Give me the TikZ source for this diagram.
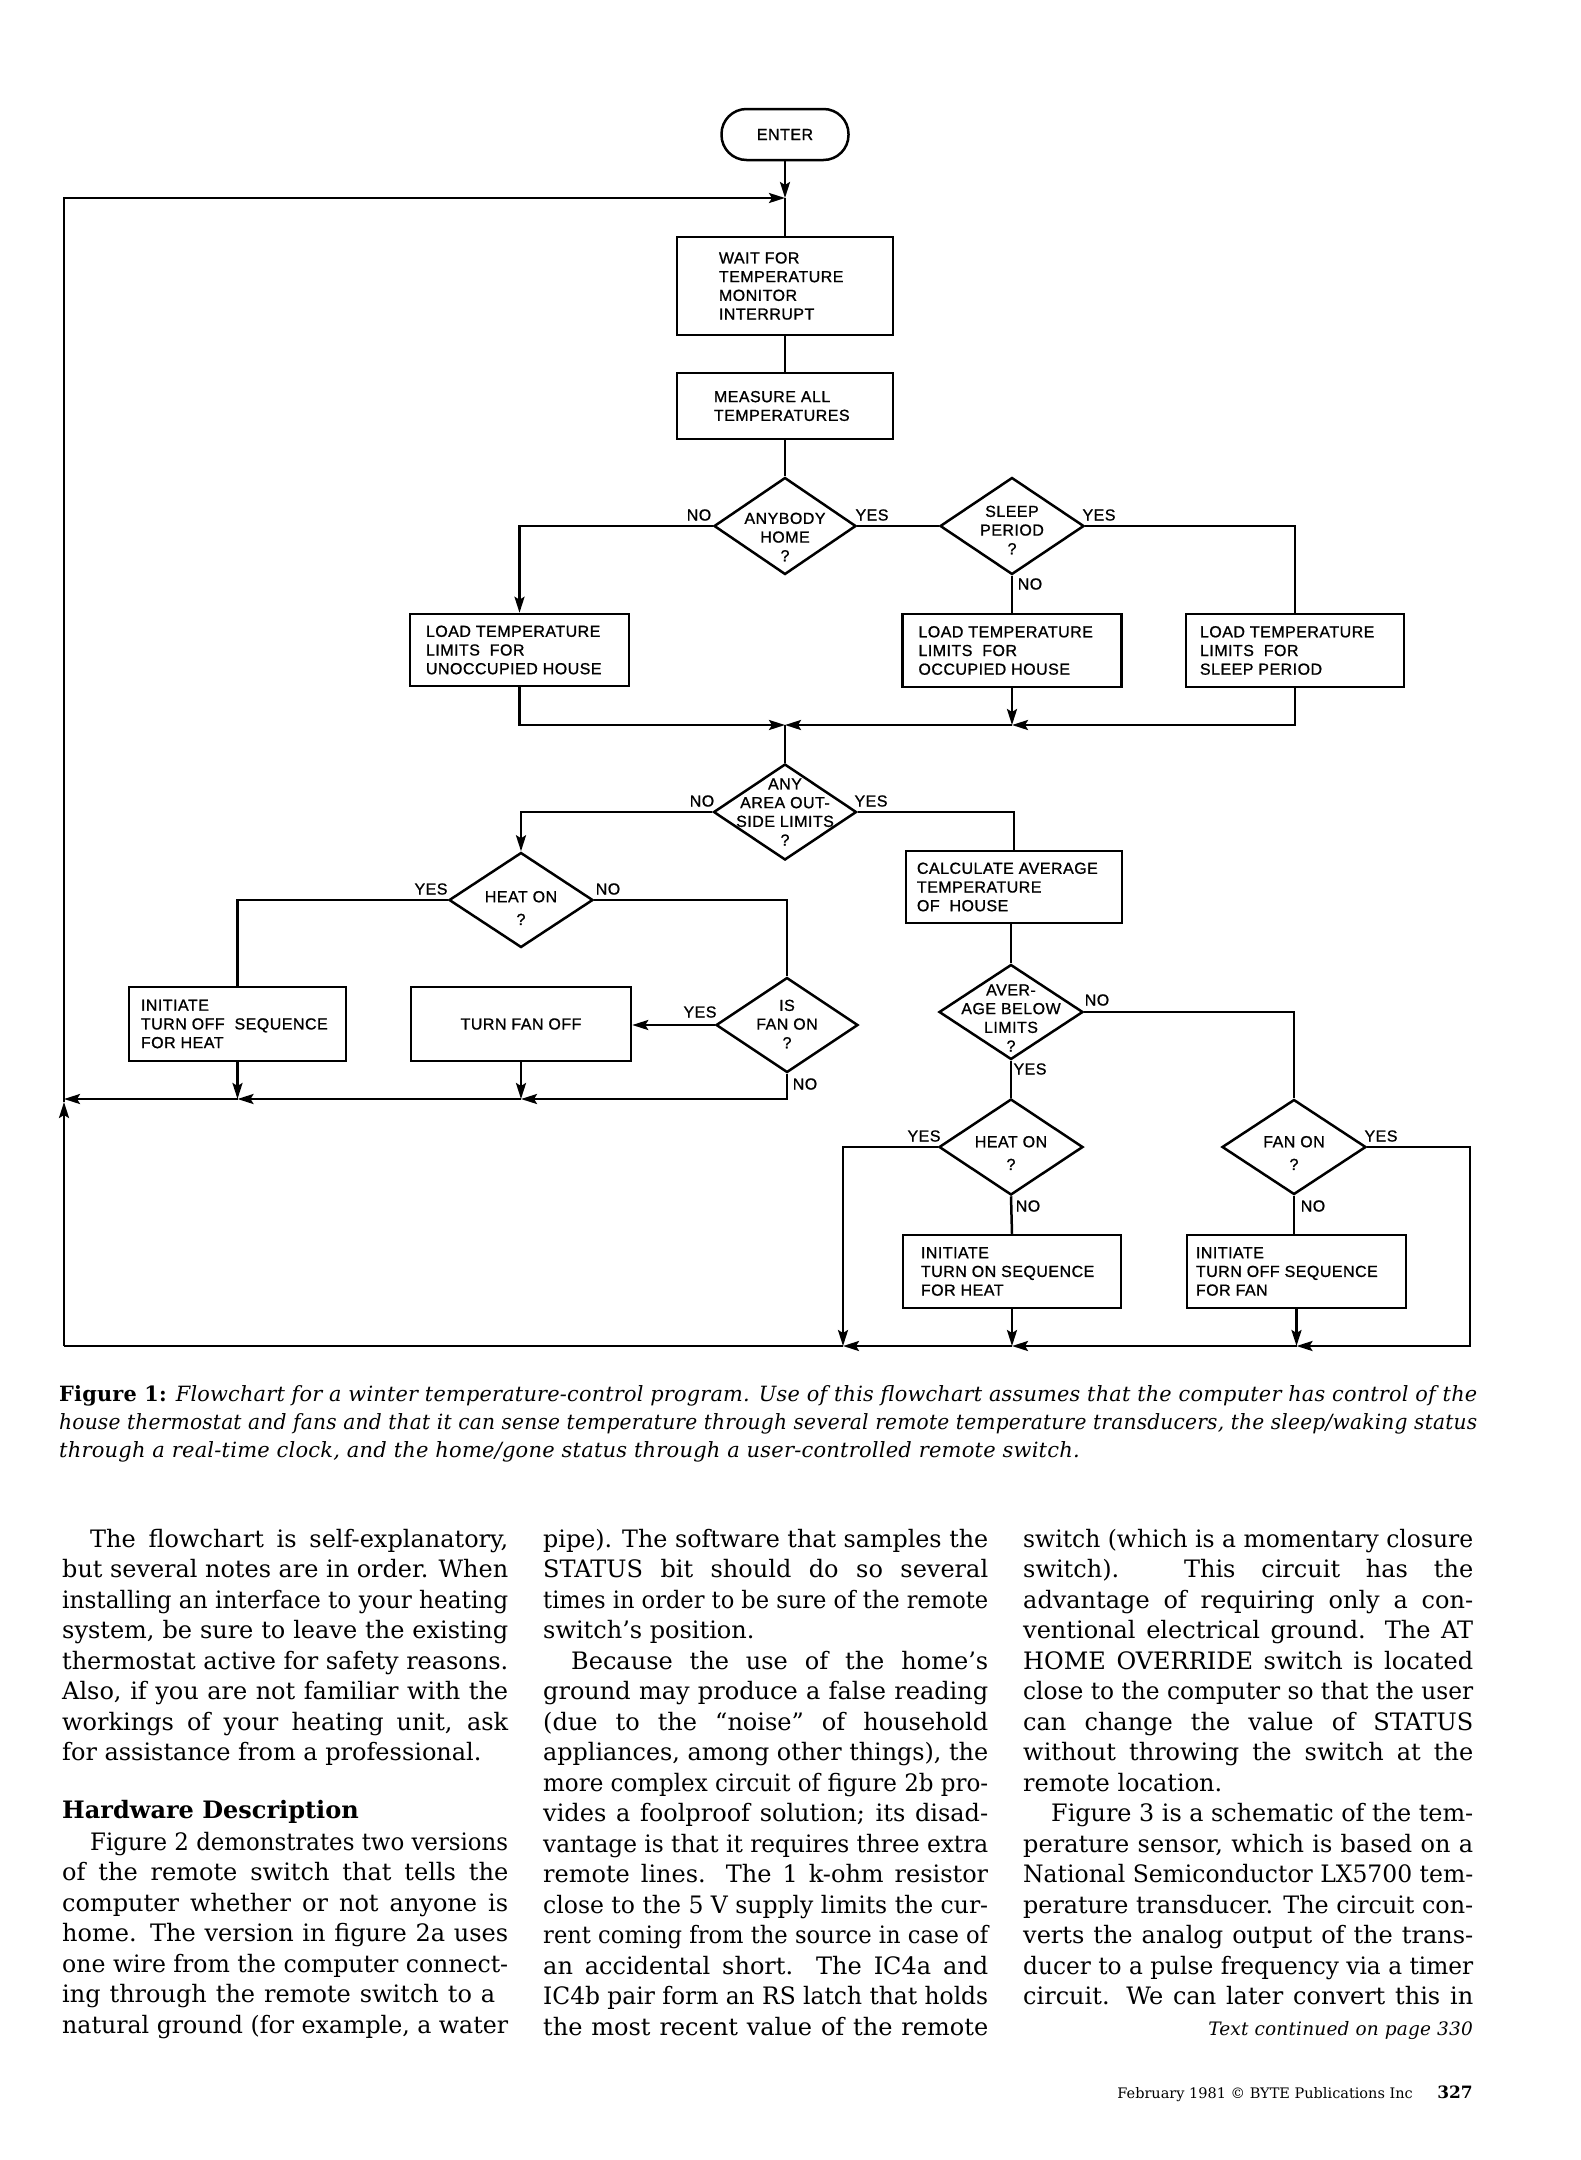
\documentclass[tikz,border=0pt]{standalone}
\usepackage{fontspec}
\usetikzlibrary{shapes.geometric,arrows.meta,calc}
\setmainfont{DejaVu Serif}
\newfontfamily\dfont[LetterSpace=3,FakeBold=1]{Liberation Sans}
\newfontfamily\capfont[LetterSpace=1]{DejaVu Serif}
\newcommand\dsize{\fontsize{16}{18.7}\selectfont}
\newcommand\bodyfont{\fontsize{24}{30.5}\selectfont\parindent0pt\parskip0pt}
\newsavebox\linebox
\newcommand\fitline[2]{\sbox\linebox{#2}\ifdim\wd\linebox>#1\relax\resizebox{#1}{\height}{\usebox\linebox}\else\makebox[#1][s]{#2}\fi}
\newcommand\bjl[1]{\fitline{\linewidth}{#1}\par}
\newcommand\bji[1]{\hspace*{28pt}\fitline{\dimexpr\linewidth-28pt\relax}{#1}\par}
\newcommand\bll[1]{#1\par}
\tikzset{
  ln/.style={line width=2.5pt},
  arr/.style={line width=2.5pt,-{Stealth[length=16pt,width=10pt,inset=3pt]}},
  box/.style={draw,line width=2.5pt,inner sep=0pt},
  dia/.style={draw,diamond,line width=2.5pt,inner sep=0pt},
  btext/.style={align=left,inner sep=0pt,font=\dfont\dsize},
  dtext/.style={align=center,inner sep=0pt,font=\dfont\dsize},
  lbl/.style={inner sep=0pt,font=\dfont\dsize},
}
\begin{document}
\begin{tikzpicture}[x=1pt,y=-1pt]
\useasboundingbox (0,0) rectangle (1580,2160);
\fill[white] (0,0) rectangle (1580,2160);

% ---------- nodes ----------
\node[box,rounded corners=25pt,minimum width=127pt,minimum height=51pt,font=\dfont\dsize] (enter) at (785,134.5) {ENTER};

\node[box,minimum width=216pt,minimum height=98pt] (wait) at (785,286) {};
\node[btext,anchor=west] (waitt) at ($(wait.west)+(43,0)$) {WAIT FOR\\TEMPERATURE\\MONITOR\\INTERRUPT};

\node[box,minimum width=216pt,minimum height=66pt] (meas) at (785,406) {};
\node[btext,anchor=west] (meast) at ($(meas.west)+(38,0)$) {MEASURE ALL\\TEMPERATURES};

\node[dia,minimum width=142pt,minimum height=97pt] (anyb) at (785,526) {};
\node[dtext] (anybt) at (785,537) {ANYBODY\\HOME\\?};

\node[dia,minimum width=144pt,minimum height=97pt] (sleep) at (1012,526) {};
\node[dtext] (sleept) at (1012,530) {SLEEP\\PERIOD\\?};

\node[box,minimum width=219pt,minimum height=72pt] (load1) at (519.5,650) {};
\node[btext,anchor=west] (load1t) at ($(load1.west)+(17,0)$) {LOAD\ TEMPERATURE\\LIMITS\ \ FOR\\UNOCCUPIED\ HOUSE};

\node[box,minimum width=219pt,minimum height=73pt] (load2) at (1012,650.5) {};
\node[btext,anchor=west] (load2t) at ($(load2.west)+(17,0)$) {LOAD\ TEMPERATURE\\LIMITS\ \ FOR\\OCCUPIED\ HOUSE};

\node[box,minimum width=218pt,minimum height=73pt] (load3) at (1295,650.5) {};
\node[btext,anchor=west] (load3t) at ($(load3.west)+(15,0)$) {LOAD\ TEMPERATURE\\LIMITS\ \ FOR\\SLEEP\ PERIOD};

\node[dia,minimum width=143pt,minimum height=96pt] (any) at (785,812) {};
\node[dtext] (anyt) at (785,812) {ANY\\AREA OUT-\\SIDE LIMITS\\?};

\node[box,minimum width=216pt,minimum height=72pt] (calc) at (1014,887) {};
\node[btext,anchor=west] (calct) at ($(calc.west)+(12,0)$) {CALCULATE AVERAGE\\TEMPERATURE\\OF\ \ HOUSE};

\node[dia,minimum width=144pt,minimum height=95pt] (heat1) at (521,900) {};
\node[dtext] (heat1t) at (521,908) {HEAT ON\\[4pt]?};

\node[box,minimum width=217pt,minimum height=74pt] (init1) at (237.5,1024) {};
\node[btext,anchor=west] (init1t) at ($(init1.west)+(13,0)$) {INITIATE\\TURN OFF\ \ SEQUENCE\\FOR HEAT};

\node[box,minimum width=220pt,minimum height=74pt,font=\dfont\dsize] (tfo) at (521,1024) {TURN FAN OFF};

\node[dia,minimum width=142pt,minimum height=95pt] (isfan) at (787,1025) {};
\node[dtext] (isfant) at (787,1024) {IS\\FAN ON\\?};

\node[dia,minimum width=144pt,minimum height=95pt] (aver) at (1011,1012) {};
\node[dtext] (avert) at (1011,1018) {AVER-\\AGE BELOW\\LIMITS\\?};

\node[dia,minimum width=144pt,minimum height=96pt] (heat2) at (1011,1147) {};
\node[dtext] (heat2t) at (1011,1153) {HEAT ON\\[4pt]?};

\node[dia,minimum width=144pt,minimum height=95pt] (fanon) at (1294,1147) {};
\node[dtext] (fanont) at (1294,1153) {FAN ON\\[4pt]?};

\node[box,minimum width=218pt,minimum height=73pt] (init2) at (1012,1271.5) {};
\node[btext,anchor=west] (init2t) at ($(init2.west)+(19,0)$) {INITIATE\\TURN ON SEQUENCE\\FOR HEAT};

\node[box,minimum width=219pt,minimum height=73pt] (init3) at (1296.5,1271.5) {};
\node[btext,anchor=west] (init3t) at ($(init3.west)+(10,0)$) {INITIATE\\TURN OFF SEQUENCE\\FOR FAN};

% ---------- labels ----------
\node[lbl] (n1) at (699,515) {NO};
\node[lbl] (y1) at (872,515) {YES};
\node[lbl] (y2) at (1099,515) {YES};
\node[lbl] (n2) at (1030,584) {NO};
\node[lbl] (n3) at (702,801) {NO};
\node[lbl] (y3) at (871,801) {YES};
\node[lbl] (y4) at (431,889) {YES};
\node[lbl] (n4) at (608,889) {NO};
\node[lbl] (y5) at (700,1012) {YES};
\node[lbl] (n5) at (805,1084) {NO};
\node[lbl] (n6) at (1097,1000) {NO};
\node[lbl] (y6) at (1030,1069) {YES};
\node[lbl] (y7) at (924,1136) {YES};
\node[lbl] (n7) at (1028,1206) {NO};
\node[lbl] (y8) at (1381,1136) {YES};
\node[lbl] (n8) at (1313,1206) {NO};

% ---------- coordinates ----------
\coordinate (j0) at (785,198);
\coordinate (jl0) at (64,198);
\coordinate (jc) at (785,725);
\coordinate (j2) at (1012,725);
\coordinate (j4) at (521,1099);
\coordinate (j3) at (237.5,1099);
\coordinate (jl) at (64,1099);
\coordinate (jup) at (64,1102);
\coordinate (j5) at (843,1346);
\coordinate (j6) at (1012,1346);
\coordinate (j7) at (1296.5,1346);
\coordinate (cr1) at (1470,1147);
\coordinate (cr2) at (1470,1346);
\coordinate (jbl) at (64,1346);

% ---------- connectors ----------
\draw[arr] (enter) -- (j0);
\draw[ln] (j0) -- (wait);
\draw[ln] (wait) -- (meas);
\draw[ln] (meas) -- (anyb);
\draw[arr] (anyb.west) -| (load1.north);
\draw[ln] (anyb.east) -- (sleep.west);
\draw[ln] (sleep.east) -| (load3.north);
\draw[ln] (sleep.south) -- (load2.north);
\draw[arr] (load1.south) |- (jc);
\draw[arr] (load2.south) -- (j2);
\draw[arr] (load3.south) |- (j2);
\draw[arr] (j2) -- (jc);
\draw[ln] (jc) -- (any);
\draw[arr] (any.west) -| (heat1.north);
\draw[ln] (any.east) -| (calc.north);
\draw[ln] (heat1.west) -| (init1.north);
\draw[ln] (heat1.east) -| (isfan.north);
\draw[arr] (isfan.west) -- (isfan.west -| tfo.east);
\draw[arr] (isfan.south) |- (j4);
\draw[arr] (tfo.south) -- (j4);
\draw[arr] (j4) -- (j3);
\draw[arr] (init1.south) -- (j3);
\draw[arr] (j3) -- (jl);
\draw[ln] (calc.south -| aver.north) -- (aver.north);
\draw[ln] (aver.east) -| (fanon.north);
\draw[ln] (aver.south) -- (heat2.north);
\draw[arr] (heat2.west) -| (j5);
\draw[ln] (heat2.south) -- (init2.north);
\draw[ln] (fanon.south) -- (fanon.south |- init3.north);
\draw[arr] (fanon.east) -- (cr1) -- (cr2) -- (j7);
\draw[arr] (init3.south) -- (j7);
\draw[arr] (init2.south) -- (j6);
\draw[arr] (j7) -- (j6);
\draw[arr] (j6) -- (j5);
\draw[ln] (j5) -- (jbl);
\draw[arr] (jbl) -- (jup);
\draw[arr] (jup) -- (jl0) -- (j0);

% ---------- caption ----------
\node[anchor=base west,inner sep=0pt] (cap) at (59,1401) {\begin{minipage}[t]{1418pt}\capfont\itshape\fontsize{21}{28.3}\selectfont\parindent0pt\parskip0pt
\fitline{\linewidth}{{\upshape\bfseries Figure 1:} Flowchart for a winter temperature-control program. Use of this flowchart assumes that the computer has control of the}\par
\fitline{\linewidth}{house thermostat and fans and that it can sense temperature through several remote temperature transducers, the sleep/waking status}\par
through a real-time clock, and the home/gone status through a user-controlled remote switch.\par
\end{minipage}};

% ---------- body text ----------
\node[anchor=base west,inner sep=0pt] (col1) at (62,1547) {\begin{minipage}[t]{446pt}\bodyfont
\bji{The flowchart is self-explanatory,}
\bjl{but several notes are in order. When}
\bjl{installing an interface to your heating}
\bjl{system, be sure to leave the existing}
\bjl{thermostat active for safety reasons.}
\bjl{Also, if you are not familiar with the}
\bjl{workings of your heating unit, ask}
\bll{for assistance from a professional.}
\vspace{27.5pt}
\bll{\textbf{Hardware Description}}
\vspace{1pt}
\bji{Figure 2 demonstrates two versions}
\bjl{of the remote switch that tells the}
\bjl{computer whether or not anyone is}
\bjl{home. The version in figure 2a uses}
\bjl{one wire from the computer connect-}
\fitline{433pt}{ing through the remote switch to a}\par
\bjl{natural ground (for example, a water}
\end{minipage}};

\node[anchor=base west,inner sep=0pt] (col2) at (543,1547) {\begin{minipage}[t]{445pt}\bodyfont
\bjl{pipe). The software that samples the}
\bjl{STATUS bit should do so several}
\bjl{times in order to be sure of the remote}
\bll{switch’s position.}
\bji{Because the use of the home’s}
\bjl{ground may produce a false reading}
\bjl{(due to the “noise” of household}
\bjl{appliances, among other things), the}
\bjl{more complex circuit of figure 2b pro-}
\bjl{vides a foolproof solution; its disad-}
\bjl{vantage is that it requires three extra}
\bjl{remote lines. The 1 k-ohm resistor}
\bjl{close to the 5 V supply limits the cur-}
\bjl{rent coming from the source in case of}
\bjl{an accidental short. The IC4a and}
\bjl{IC4b pair form an RS latch that holds}
\bjl{the most recent value of the remote}
\end{minipage}};

\node[anchor=base west,inner sep=0pt] (col3) at (1023,1547) {\begin{minipage}[t]{450pt}\bodyfont
\bjl{switch (which is a momentary closure}
\bjl{switch). This circuit has the}
\bjl{advantage of requiring only a con-}
\bjl{ventional electrical ground. The AT}
\bjl{HOME OVERRIDE switch is located}
\bjl{close to the computer so that the user}
\bjl{can change the value of STATUS}
\bjl{without throwing the switch at the}
\bll{remote location.}
\bji{Figure 3 is a schematic of the tem-}
\bjl{perature sensor, which is based on a}
\bjl{National Semiconductor LX5700 tem-}
\bjl{perature transducer. The circuit con-}
\bjl{verts the analog output of the trans-}
\bjl{ducer to a pulse frequency via a timer}
\bjl{circuit. We can later convert this in}
\end{minipage}};

\node[anchor=base east,inner sep=0pt,font=\capfont\itshape\fontsize{18.5}{18.5}\selectfont] (cont) at (1473,2035) {Text continued on page 330};

% ---------- footer ----------
\node[anchor=base east,inner sep=0pt,font=\fontsize{14.5}{14.5}\selectfont] (foot) at (1413,2098) {February 1981 \textcopyright\ BYTE Publications Inc};
\node[anchor=base east,inner sep=0pt,font=\fontsize{17}{17}\selectfont\bfseries] (page) at (1473,2098) {327};
\end{tikzpicture}
\end{document}
